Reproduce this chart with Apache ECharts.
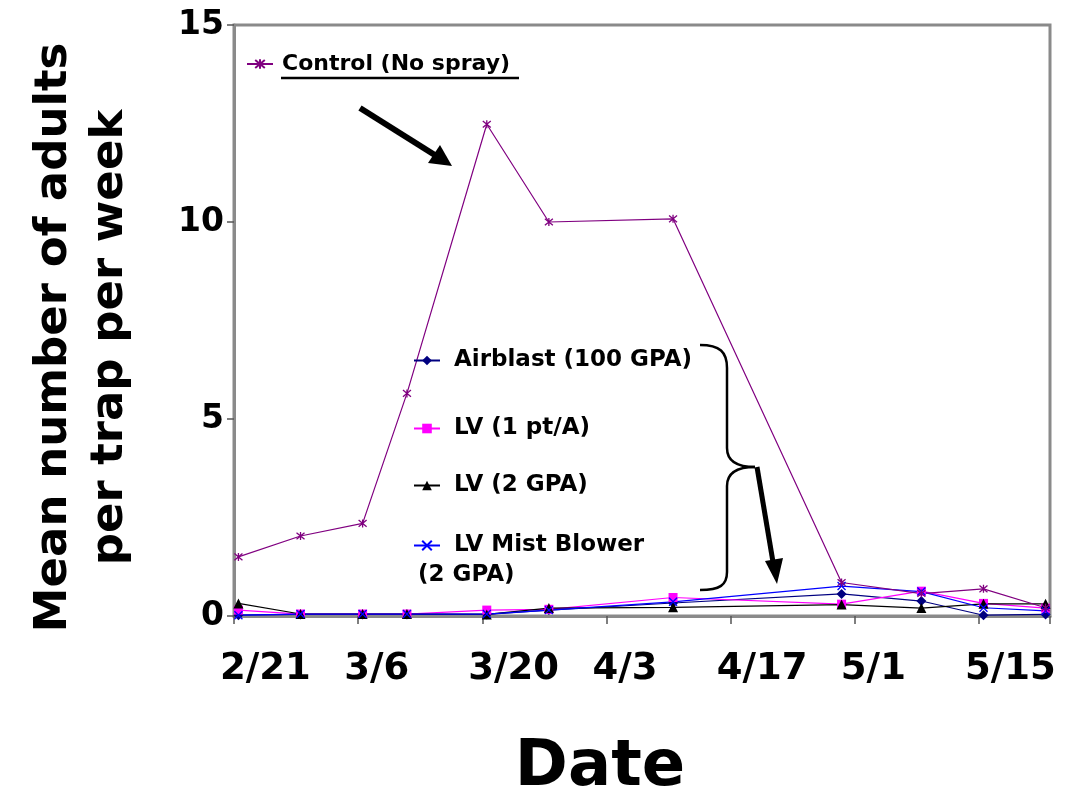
<!DOCTYPE html>
<html>
<head>
<meta charset="utf-8">
<script src="https://cdn.jsdelivr.net/npm/echarts@6/dist/echarts.min.js"></script>
<style>html,body{margin:0;padding:0;background:#fff;}#c{width:1067px;height:799px;}</style>
</head>
<body>
<div id="c"></div>
<script>
// ---- data ----
const sampleDates = ['2/21','2/28','3/6','3/11','3/20','3/27','4/10','4/29','5/8','5/15','5/22'];
const control     = [1.5, 2.03, 2.35, 5.65, 12.48, 10.0, 10.08, 0.85, 0.57, 0.69, 0.21];
const airblast    = [0.02, 0.04, 0.04, 0.04, 0.04, 0.15, 0.33, 0.56, 0.38, 0.02, 0.04];
const lv1pt       = [0.15, 0.05, 0.05, 0.05, 0.15, 0.17, 0.47, 0.30, 0.63, 0.32, 0.20];
const lv2gpa      = [0.32, 0.05, 0.05, 0.05, 0.04, 0.20, 0.22, 0.29, 0.20, 0.31, 0.31];
const mistBlower  = [0.02, 0.05, 0.05, 0.05, 0.05, 0.15, 0.36, 0.76, 0.62, 0.21, 0.13];
const xTickLabels = ['2/21','3/6','3/20','4/3','4/17','5/1','5/15'];
const yTicks = [0, 5, 10, 15];
const seriesNames = ['Control (No spray)','Airblast (100 GPA)','LV (1 pt/A)','LV (2 GPA)','LV Mist Blower (2 GPA)'];

// day offset from 2/21 (leap year), placed at mid-day like an Excel date axis
const YEAR = 2008;
const start = Date.UTC(YEAR, 1, 21);
function dayOf(s) {
  const [m, d] = s.split('/').map(Number);
  return (Date.UTC(YEAR, m - 1, d) - start) / 86400000;
}
const xs = sampleDates.map(s => dayOf(s) + 0.5);
const pairs = arr => arr.map((v, i) => [xs[i], v]);

const FONT = "'Comic Sans MS','DejaVu Sans',sans-serif";
const chart = echarts.init(document.getElementById('c'));

const starPath = 'path://M0,0L10,10M10,0L0,10M5,-1L5,11';
const xPath = 'path://M0,0L10,10M10,0L0,10';

function legendFor(name, left, top, formatter, size, gap) {
  return {
    data: [name], left: left, top: top, orient: 'vertical',
    itemWidth: 26, itemHeight: 12, itemGap: 0, padding: 0,
    textStyle: { fontFamily: FONT, fontWeight: 'bold', fontSize: size || 23, color: '#000', padding: [0, 0, 0, gap == null ? 9 : gap] },
    formatter: formatter || (n => n),
    selectedMode: false
  };
}

const blk = { stroke: '#000', lineWidth: 2.5, fill: 'none' };

chart.setOption({
  animation: false,
  backgroundColor: '#fff',
  grid: { left: 234, right: 17, top: 25, bottom: 183, show: true, borderColor: '#8a8a8a', borderWidth: 3,
    containLabel: false, outerBoundsMode: 'none' },
  legend: [
    legendFor(seriesNames[0], 246, 53, null, 22, 4),
    legendFor(seriesNames[1], 413, 349),
    legendFor(seriesNames[2], 413, 417),
    legendFor(seriesNames[3], 413, 474),
    legendFor(seriesNames[4], 413, 534, n => n.replace(' (2 GPA)', ''))
  ],
  xAxis: {
    type: 'value', min: 0, max: 92, interval: 14,
    name: 'Date', nameLocation: 'middle', nameGap: 120,
    nameTextStyle: { fontFamily: FONT, fontWeight: 'bold', fontSize: 64, color: '#000', padding: [0, 84, 0, 0] },
    axisLine: { show: true, lineStyle: { color: '#8a8a8a', width: 3 } },
    axisTick: { show: true, length: 8, lineStyle: { color: '#555', width: 1.5 } },
    axisLabel: {
      fontFamily: FONT, fontWeight: 'bold', fontSize: 37, color: '#000', margin: 35,
      align: 'left', padding: [0, 0, 0, -14],
      formatter: v => (v % 14 === 0 && xTickLabels[v / 14]) ? xTickLabels[v / 14] : ''
    },
    splitLine: { show: false }
  },
  yAxis: {
    type: 'value', min: 0, max: 15, interval: 5,
    name: 'Mean number of adults\nper trap per week', nameLocation: 'middle', nameGap: 96, nameRotate: 90,
    nameTextStyle: { fontFamily: FONT, fontWeight: 'bold', fontSize: 45, color: '#000', lineHeight: 56, padding: [0, 34, 0, 0] },
    axisLine: { show: true, lineStyle: { color: '#8a8a8a', width: 3 } },
    axisTick: { show: true, length: 7, lineStyle: { color: '#555', width: 1.5 } },
    axisLabel: { fontFamily: FONT, fontWeight: 'bold', fontSize: 33, color: '#000', margin: 10,
      formatter: v => yTicks.includes(v) ? String(v) : '' },
    splitLine: { show: false }
  },
  series: [
    { name: seriesNames[1], type: 'line', data: pairs(airblast), symbol: 'diamond', symbolSize: 10,
      lineStyle: { color: '#000080', width: 1.2 }, itemStyle: { color: '#000080' } },
    { name: seriesNames[2], type: 'line', data: pairs(lv1pt), symbol: 'rect', symbolSize: 9,
      lineStyle: { color: '#FF00FF', width: 1.2 }, itemStyle: { color: '#FF00FF' } },
    { name: seriesNames[3], type: 'line', data: pairs(lv2gpa), symbol: 'triangle', symbolSize: 10,
      lineStyle: { color: '#000000', width: 1.2 }, itemStyle: { color: '#000000' } },
    { name: seriesNames[4], type: 'line', data: pairs(mistBlower), symbol: xPath, symbolSize: 8,
      lineStyle: { color: '#0000FF', width: 1.2 }, itemStyle: { color: '#0000FF', borderColor: '#0000FF', borderWidth: 1.3 } },
    { name: seriesNames[0], type: 'line', data: pairs(control), symbol: starPath, symbolSize: 8,
      lineStyle: { color: '#800080', width: 1.2 }, itemStyle: { color: '#800080', borderColor: '#800080', borderWidth: 1.3 } }
  ],
  graphic: [
    // underline for control legend
    { type: 'line', shape: { x1: 281, y1: 78, x2: 519, y2: 78 }, style: { stroke: '#000', lineWidth: 2.5 } },
    // second line of mist blower label
    { type: 'text', x: 418, y: 564, style: { text: '(2 GPA)', font: "bold 23px 'Comic Sans MS','DejaVu Sans',sans-serif", fill: '#000' } },
    // brace
    { type: 'bezierCurve', shape: { x1: 700, y1: 345, cpx1: 720, cpy1: 345, cpx2: 727, cpy2: 352, x2: 727, y2: 368 }, style: blk },
    { type: 'line', shape: { x1: 727, y1: 368, x2: 727, y2: 448 }, style: blk },
    { type: 'bezierCurve', shape: { x1: 727, y1: 448, cpx1: 727, cpy1: 460, cpx2: 735, cpy2: 467, x2: 755, y2: 467 }, style: blk },
    { type: 'bezierCurve', shape: { x1: 755, y1: 467, cpx1: 735, cpy1: 467, cpx2: 727, cpy2: 474, x2: 727, y2: 486 }, style: blk },
    { type: 'line', shape: { x1: 727, y1: 486, x2: 727, y2: 572 }, style: blk },
    { type: 'bezierCurve', shape: { x1: 727, y1: 572, cpx1: 727, cpy1: 585, cpx2: 720, cpy2: 590, x2: 700, y2: 590 }, style: blk },
    // arrow 1
    { type: 'line', shape: { x1: 360, y1: 108, x2: 438, y2: 157 }, style: { stroke: '#000', lineWidth: 6 } },
    { type: 'polygon', shape: { points: [[452, 166], [428, 163], [440, 145]] }, style: { fill: '#000' } },
    // arrow 2
    { type: 'line', shape: { x1: 757, y1: 467, x2: 773, y2: 562 }, style: { stroke: '#000', lineWidth: 5 } },
    { type: 'polygon', shape: { points: [[777, 584], [765, 561], [783, 558]] }, style: { fill: '#000' } }
  ]
});
</script>
</body>
</html>
